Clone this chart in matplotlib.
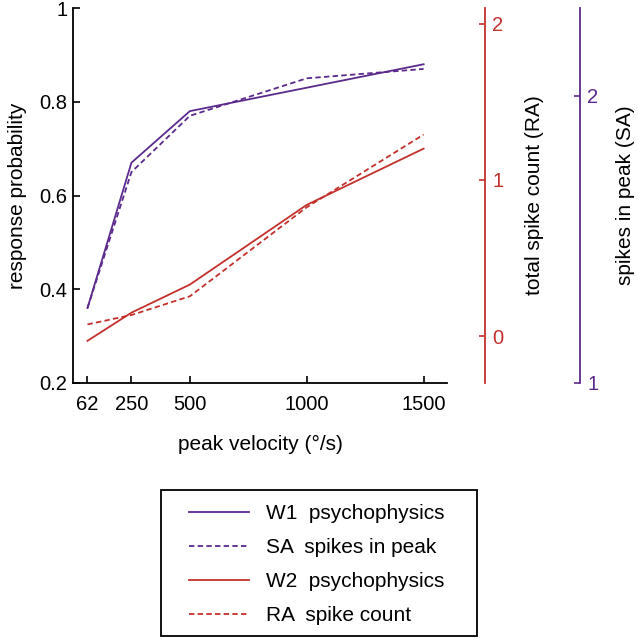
import matplotlib.pyplot as plt
import matplotlib as mpl
from matplotlib.patches import Rectangle

plt.rcParams['font.family'] = ['Liberation Sans', 'DejaVu Sans']

# data
velocity = [62, 250, 500, 1000, 1500]
w1_psycho = [0.36, 0.67, 0.78, 0.83, 0.88]
sa_spikes = [0.36, 0.65, 0.77, 0.85, 0.87]
w2_psycho = [0.29, 0.35, 0.41, 0.58, 0.70]
ra_count = [0.325, 0.345, 0.385, 0.575, 0.73]
xtick_labels = ['62', '250', '500', '1000', '1500']

purple = '#5b2a8c'
red = '#c3302c'
fs_tick = 14.5
fs_lab = 15

W, H = 638, 639
fig = plt.figure(figsize=(6.38, 6.39), dpi=100)
ax = fig.add_axes([73/W, 1 - 383/H, 374/W, 375/H])

ax.plot(velocity, w1_psycho, color=purple, lw=1.3, label='W1  psychophysics')
ax.plot(velocity, sa_spikes, color=purple, lw=1.3, ls=(0, (3, 1.8)),
        label='SA  spikes in peak')
ax.plot(velocity, w2_psycho, color=red, lw=1.3, label='W2  psychophysics')
ax.plot(velocity, ra_count, color=red, lw=1.3, ls=(0, (3, 1.8)),
        label='RA  spike count')

ax.set_xlim(0, 1600)
ax.set_ylim(0.2, 1.0)
ax.set_xticks(velocity)
ax.set_xticklabels(xtick_labels)
ax.set_yticks([0.2, 0.4, 0.6, 0.8, 1.0])
ax.set_yticklabels(['0.2', '0.4', '0.6', '0.8', '1'])
ax.spines['top'].set_visible(False)
ax.spines['right'].set_visible(False)
ax.tick_params(labelsize=fs_tick, length=5, width=1.2, direction='in', pad=4)
ax.tick_params(axis='x', pad=9)
for s in ['left', 'bottom']:
    ax.spines[s].set_linewidth(1.3)
ax.set_xlabel('peak velocity (°/s)', fontsize=fs_lab, labelpad=15)
ax.set_ylabel('response probability', fontsize=fs_lab, labelpad=9)

# red axis - total spike count (RA)
ax_ra = ax.twinx()
ax_ra.set_ylim(-0.3, 2.1)
ax_ra.set_yticks([0, 1, 2])
for s in ['top', 'left', 'bottom']:
    ax_ra.spines[s].set_visible(False)
ax_ra.spines['right'].set_position(('axes', 1.102))
ax_ra.spines['right'].set_color(red)
ax_ra.spines['right'].set_linewidth(1.3)
ax_ra.tick_params(axis='y', colors=red, labelsize=fs_tick, length=4, width=1.2,
                  direction='in', pad=5)
ax_ra.set_ylabel('total spike count (RA)', fontsize=fs_lab, labelpad=16)

# purple axis - spikes in peak (SA)
ax_sa = ax.twinx()
ax_sa.set_ylim(1, 2.305)
ax_sa.set_yticks([1, 2])
for s in ['top', 'left', 'bottom']:
    ax_sa.spines[s].set_visible(False)
ax_sa.spines['right'].set_position(('axes', 1.356))
ax_sa.spines['right'].set_color(purple)
ax_sa.spines['right'].set_linewidth(1.3)
ax_sa.tick_params(axis='y', colors=purple, labelsize=fs_tick, length=4, width=1.2,
                  direction='in', pad=5)
ax_sa.set_ylabel('spikes in peak (SA)', fontsize=fs_lab, labelpad=13)

# legend box below the plot
fig.patches.append(Rectangle((161/W, 1 - 636/H), 316/W, 146/H,
                             transform=fig.transFigure, fill=False,
                             edgecolor='black', linewidth=1.3))
leg = fig.legend(handles=ax.get_lines(), loc='upper left',
                 bbox_to_anchor=(189/W, 1 - 504/H), fontsize=fs_lab,
                 frameon=False, handlelength=2.9, handletextpad=0.8,
                 labelspacing=0.72, borderpad=0, borderaxespad=0)

fig.savefig('out.png', dpi=100)
